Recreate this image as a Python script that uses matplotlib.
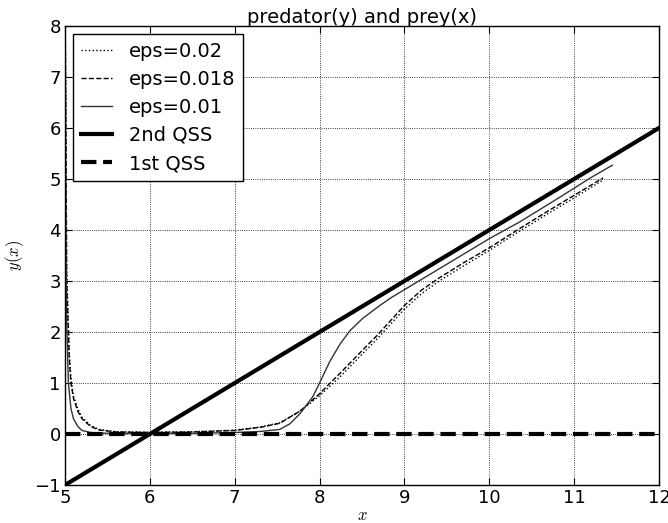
import matplotlib
matplotlib.use("Agg")
import matplotlib.pyplot as plt

# eps = 0.01 (solid)
x_e01 = [5.0, 5.01, 5.02, 5.04, 5.07, 5.1, 5.15, 5.2, 5.3, 5.5, 6.0, 6.5, 7.0, 7.3, 7.53,
         7.65, 7.77, 7.92, 8.0, 8.12, 8.24, 8.36, 8.51, 8.71, 8.85, 9.0, 9.2, 9.5, 10.0, 10.36, 10.8, 11.2, 11.45]
y_e01 = [9.0, 4.0, 2.2, 1.0, 0.5, 0.3, 0.15, 0.07, 0.03, 0.015, 0.01, 0.015, 0.03, 0.05, 0.09,
         0.2, 0.4, 0.73, 1.0, 1.42, 1.76, 2.03, 2.27, 2.52, 2.68, 2.83, 3.03, 3.33, 3.83, 4.16, 4.61, 5.03, 5.27]

# eps = 0.018 (dashed)
x_e018 = [5.0, 5.02, 5.05, 5.07, 5.1, 5.15, 5.2, 5.3, 5.4, 5.6, 6.0, 6.5, 7.0, 7.3, 7.53, 7.77,
          8.0, 8.24, 8.51, 8.67, 9.0, 9.2, 9.41, 9.7, 10.0, 10.33, 10.7, 11.0, 11.34]
y_e018 = [9.0, 3.0, 1.5, 1.0, 0.7, 0.45, 0.3, 0.15, 0.08, 0.04, 0.03, 0.04, 0.07, 0.13, 0.21, 0.45,
          0.79, 1.19, 1.65, 1.92, 2.52, 2.82, 3.06, 3.36, 3.65, 4.0, 4.38, 4.68, 5.02]

# eps = 0.02 (dotted)
x_e02 = [5.0, 5.02, 5.05, 5.07, 5.1, 5.15, 5.2, 5.3, 5.4, 5.6, 6.0, 6.5, 7.0, 7.3, 7.53, 7.77,
         8.0, 8.24, 8.51, 8.67, 9.0, 9.2, 9.41, 9.7, 10.0, 10.33, 10.7, 11.0, 11.33]
y_e02 = [9.0, 3.2, 1.6, 1.1, 0.75, 0.5, 0.33, 0.17, 0.09, 0.045, 0.035, 0.045, 0.075, 0.14, 0.22, 0.45,
         0.75, 1.12, 1.58, 1.85, 2.45, 2.75, 3.0, 3.3, 3.6, 3.95, 4.33, 4.63, 4.97]

# QSS lines
x_qss = [5, 12]
y_qss2 = [-1, 6]
y_qss1 = [0, 0]

plt.rcParams['font.family'] = ['DejaVu Sans']
plt.rcParams['mathtext.fontset'] = 'cm'

fig = plt.figure(figsize=(6.68, 5.23), dpi=100, facecolor='white')
ax = fig.add_axes([0.0973, 0.0726, 0.8892, 0.8777])

ax.plot(x_e02, y_e02, color='black', linestyle=':', linewidth=1, label='eps=0.02')
ax.plot(x_e018, y_e018, color='black', linestyle='--', linewidth=1, label='eps=0.018')
ax.plot(x_e01, y_e01, color='#333333', linestyle='-', linewidth=1, label='eps=0.01')
ax.plot(x_qss, y_qss2, color='black', linestyle='-', linewidth=3, label='2nd QSS')
ax.plot(x_qss, y_qss1, color='black', linestyle='--', linewidth=3, label='1st QSS')

ax.set_xlim(5, 12)
ax.set_ylim(-1, 8)
ax.set_xticks(range(5, 13))
ax.set_yticks(range(-1, 9))
ax.grid(True, color='black', linestyle=':', linewidth=0.6)
ax.tick_params(direction='in', labelsize=13, length=5, top=True, right=True, pad=3)
for s in ax.spines.values():
    s.set_linewidth(1)

ax.set_title('predator(y) and prey(x)', fontsize=14, pad=2)
ax.set_xlabel('$x$', fontsize=12, labelpad=-1)
ax.set_ylabel('$y(x)$', fontsize=12, labelpad=6)

leg = ax.legend(loc='upper left', fontsize=14, fancybox=False, framealpha=1,
                edgecolor='black', handlelength=1.6, handletextpad=0.9, borderpad=0.4,
                labelspacing=0.47, borderaxespad=0.4)
leg.get_frame().set_linewidth(1)

fig.savefig('out.png', dpi=100, facecolor='white')
